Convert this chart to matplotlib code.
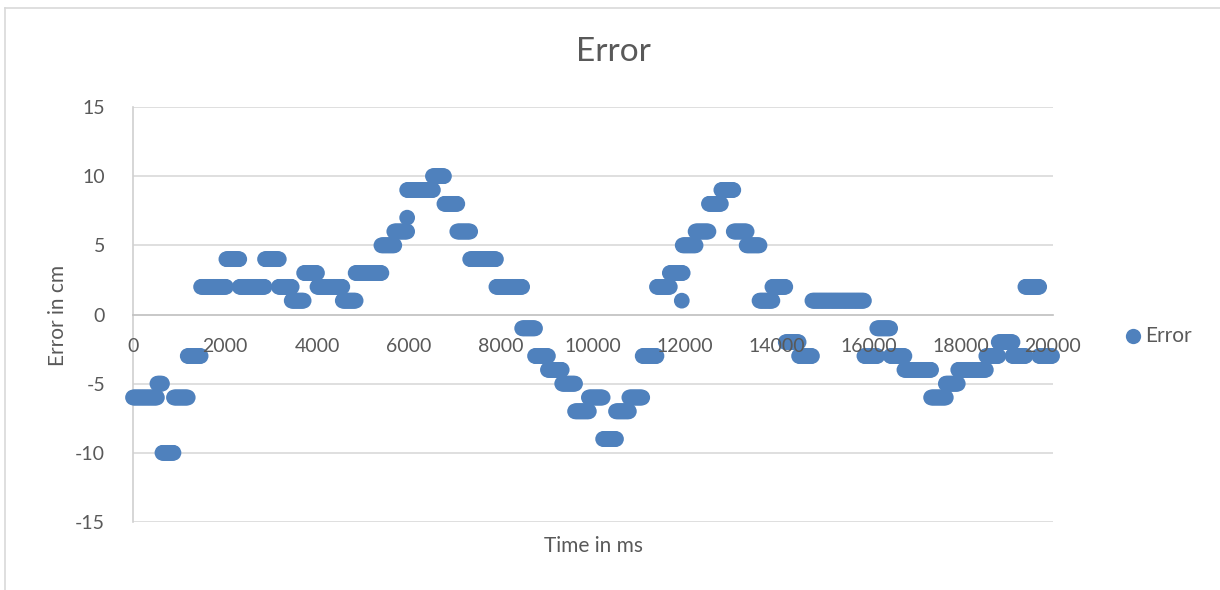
import numpy as np
import matplotlib
matplotlib.use("Agg")
import matplotlib.pyplot as plt
from matplotlib.lines import Line2D

plt.rcParams['font.family'] = ['Lato', 'DejaVu Sans']

# Run-length encoded measurement series: each run holds a constant error value
seg_start = [0, 530, 640, 890, 1190, 1480, 2030, 2320, 2870, 3170,
             3450, 3720, 4010, 4560, 4840, 5400, 5680, 5960, 6520, 6770,
             7050, 7330, 7900, 8460, 8740, 9020, 9330, 9610, 9910, 10220,
             10500, 10790, 11080, 11390, 11670, 11950, 12230, 12520, 12790, 13060,
             13340, 13620, 13900, 14190, 14480, 14770, 15900, 16180, 16470, 16770,
             17350, 17670, 17940, 18550, 18820, 19120, 19400, 19700]
seg_end = seg_start[1:] + [19980]
seg_value = [-6, -5, -10, -6, -3, 2, 4, 2, 4, 2,
             1, 3, 2, 1, 3, 5, 6, 9, 10, 8,
             6, 4, 2, -1, -3, -4, -5, -7, -6, -9,
             -7, -6, -3, 2, 3, 5, 6, 8, 9, 6,
             5, 1, 2, -2, -3, 1, -3, -1, -3, -4,
             -6, -5, -4, -3, -2, -3, 2, -3]
# isolated samples
single_time = [5960, 11930]
single_value = [7, 1]

sample_step_ms = 20

x_ticks = [0, 2000, 4000, 6000, 8000, 10000, 12000, 14000, 16000, 18000, 20000]
y_ticks = [-15, -10, -5, 0, 5, 10, 15]

times, values = [], []
for s, e, v in zip(seg_start, seg_end, seg_value):
    t = np.arange(s, e + 1, sample_step_ms)
    times.extend(t.tolist())
    values.extend([v] * len(t))
times.extend(single_time)
values.extend(single_value)

W, H = 1220, 590
fig = plt.figure(figsize=(W / 100, H / 100), dpi=100)
fig.patch.set_facecolor('white')

# chart frame
frame_col = '#D9D9D9'
fig.add_artist(Line2D([5 / W, 5 / W], [0, 1 - 8 / H], transform=fig.transFigure, color=frame_col, lw=1.2))
fig.add_artist(Line2D([5 / W, 1], [1 - 8 / H, 1 - 8 / H], transform=fig.transFigure, color=frame_col, lw=1.2))

left, right, top, bottom = 133, 1053, 107, 522
ax = fig.add_axes([left / W, 1 - bottom / H, (right - left) / W, (bottom - top) / H])
ax.set_axisbelow('line')  # axis (tick labels) at zorder 1.5

text_col = '#595959'
blue = '#4F81BD'

for yv in y_ticks:
    if yv != 0:
        ax.axhline(yv, color='#D9D9D9', lw=1.2, zorder=0.5)

ax.scatter(times, values, s=128, color=blue, edgecolors='none', zorder=1.2, clip_on=False)

ax.set_xlim(0, 20000)
ax.set_ylim(-15, 15)
ax.set_xticks(x_ticks)
ax.set_yticks(y_ticks)
ax.set_xticklabels([str(v) for v in x_ticks])
ax.set_yticklabels([str(v) for v in y_ticks])

for side in ['top', 'right']:
    ax.spines[side].set_visible(False)
ax.spines['bottom'].set_position(('data', 0))
ax.spines['bottom'].set_color('#BFBFBF')
ax.spines['left'].set_color('#D0D0D0')
ax.spines['bottom'].set_linewidth(1.2)
ax.spines['left'].set_linewidth(1.2)
ax.spines['bottom'].set_zorder(1)
ax.spines['left'].set_zorder(1)

ax.tick_params(axis='both', length=0, labelsize=14, labelcolor=text_col)
ax.tick_params(axis='x', pad=17)
ax.tick_params(axis='y', pad=20)

fig.text(613 / W, 1 - 52 / H, 'Error', ha='center', va='center', fontsize=24, color=text_col)
fig.text(593 / W, 1 - 546 / H, 'Time in ms', ha='center', va='center', fontsize=15, color=text_col)
fig.text(58 / W, 1 - 315 / H, 'Error in cm', ha='center', va='center', rotation=90, fontsize=15, color=text_col)

# legend
fig.add_artist(Line2D([1133 / W], [1 - 336 / H], transform=fig.transFigure, marker='o',
                      markersize=11, color=blue, markeredgewidth=0, linestyle='none'))
fig.text(1145 / W, 1 - 336 / H, 'Error', ha='left', va='center', fontsize=15, color=text_col)

fig.savefig('out.png', dpi=100, facecolor='white')
